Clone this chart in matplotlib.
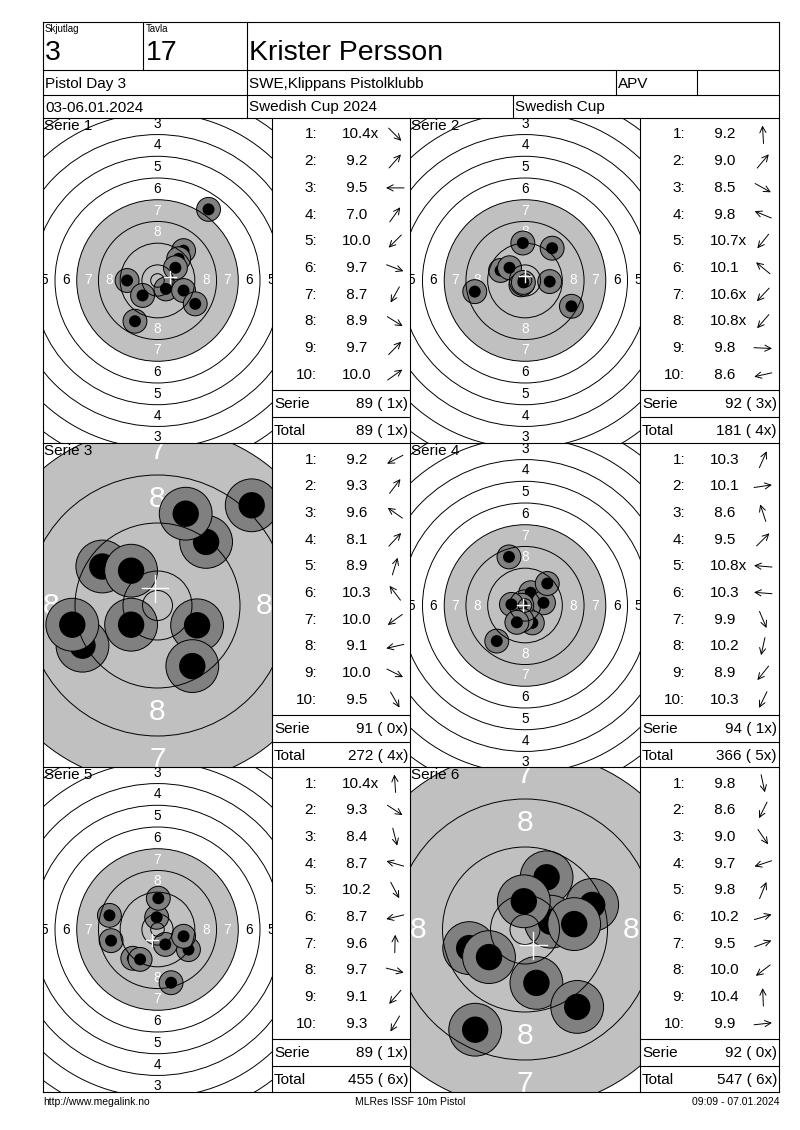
import numpy as np
import matplotlib
matplotlib.use("Agg")
import matplotlib.pyplot as plt
from matplotlib.patches import Circle

plt.rcParams['font.family'] = ['Liberation Sans', 'DejaVu Sans']

W, H = 800, 1130

# header texts
relay = "3"
lane = "17"
shooter = "Krister Persson"
match_name = "Pistol Day 3"
club = "SWE,Klippans Pistolklubb"
klass = "APV"
dates = "03-06.01.2024"
event = "Swedish Cup 2024"
event_short = "Swedish Cup"
footer_left = "http://www.megalink.no"
footer_mid = "MLRes ISSF 10m Pistol"
footer_right = "09:09 - 07.01.2024"

# shot positions in mm from the centre (x right, y up), one list per serie
shot_x = [
    [3.1, 9.6, -11.2, 18.8, -5.5, 9.6, -8.3, 13.9, 7.8, 6.6],
    [-0.8, 10.0, 17.1, -9.0, -0.8, -5.7, -1.5, -0.6, 9.1, -18.5],
    [-12.5, 8.1, -9.2, 15.7, 4.7, -4.4, -4.4, -14.2, 6.6, 5.8],
    [2.1, 6.8, -5.9, 8.2, -1.2, -5.0, 2.7, -1.2, -10.4, -3.0],
    [-0.3, 11.4, 5.0, -17.7, 2.9, -17.1, 0.3, 9.6, -9.1, -6.4],
    [1.9, -8.3, 8.7, -9.3, 3.6, 4.3, 11.2, -6.0, -0.2, 8.2],
]
shot_y = [
    [-3.1, 11.0, 0.0, 26.2, -5.5, -3.7, -15.0, -8.6, 8.0, 4.7],
    [13.8, 11.9, -9.5, 3.7, -1.0, 4.7, -1.6, -0.7, -0.4, -4.1],
    [-6.7, 10.6, 6.5, 16.7, 15.3, 5.8, -3.2, -3.2, -3.3, -10.1],
    [4.7, 1.0, 17.9, 8.1, 0.1, 0.4, -6.4, -5.4, -13.1, -6.2],
    [4.5, -7.4, -19.6, 5.2, -5.5, -4.1, 11.5, -2.5, -10.6, -11.0],
    [-8.9, -16.7, -12.9, -3.1, 8.7, 1.3, 4.1, -4.6, 4.7, 0.9],
]
shot_score = [
    [10.4, 9.2, 9.5, 7.0, 10.0, 9.7, 8.7, 8.9, 9.7, 10.0],
    [9.2, 9.0, 8.5, 9.8, 10.7, 10.1, 10.6, 10.8, 9.8, 8.6],
    [9.2, 9.3, 9.6, 8.1, 8.9, 10.3, 10.0, 9.1, 10.0, 9.5],
    [10.3, 10.1, 8.6, 9.5, 10.8, 10.3, 9.9, 10.2, 8.9, 10.3],
    [10.4, 9.3, 8.4, 8.7, 10.2, 8.7, 9.6, 9.7, 9.1, 9.3],
    [9.8, 8.6, 9.0, 9.7, 9.8, 10.2, 9.5, 10.0, 10.4, 9.9],
]
inner_ten = [
    [1, 0, 0, 0, 0, 0, 0, 0, 0, 0],
    [0, 0, 0, 0, 1, 0, 1, 1, 0, 0],
    [0, 0, 0, 0, 0, 0, 0, 0, 0, 0],
    [0, 0, 0, 0, 1, 0, 0, 0, 0, 0],
    [1, 0, 0, 0, 0, 0, 0, 0, 0, 0],
    [0, 0, 0, 0, 0, 0, 0, 0, 0, 0],
]
# display scale of each target, pixels per mm
view_scale = [2.715, 2.715, 6.0, 2.715, 2.715, 6.0]

# 10m air pistol target
ring_r = [77.75 - 8 * k for k in range(10)]   # rings 1..10
inner_r = 2.5
black_ring = 7

# page layout (pixels)
left, right, top, bottom = 43, 779, 22, 1092
row_top = [118, 443, 767]
row_h = 325
tgt_left = [43, 410]
tgt_w = [229, 230]
tab_left = [272, 640]
tab_w = [138, 139]

fig = plt.figure(figsize=(W / 100, H / 100), dpi=100)


def draw_target(ax, s, xs, ys, w, h):
    ax.set_xlim(-w / 2 / s, w / 2 / s)
    ax.set_ylim(-h / 2 / s, h / 2 / s)
    ax.set_aspect('equal')
    ax.axis('off')
    ax.add_patch(Circle((0, 0), ring_r[black_ring - 1], fc='#c0c0c0', ec='none', zorder=1))
    fs = 3.6 * s
    for k in range(1, 9):
        rr = ring_r[k - 1] - 4
        col = 'white' if k >= black_ring else 'black'
        for dx, dy in [(0, 1), (0, -1), (1, 0), (-1, 0)]:
            ax.text(dx * rr, dy * rr, str(k), ha='center', va='center', fontsize=fs,
                    color=col, zorder=2, clip_on=True)
    for x, y in zip(xs, ys):
        ax.add_patch(Circle((x, y), 4.4, fc='#808080', ec='black', lw=0.7, zorder=3))
        ax.add_patch(Circle((x, y), 2.2, fc='black', ec='none', zorder=3))
    for r in ring_r + [inner_r]:
        ax.add_patch(Circle((0, 0), r, fill=False, ec='black', lw=0.7, zorder=4))
    mx, my = np.mean(xs), np.mean(ys)
    ax.plot([mx - 2.2, mx + 2.2], [my, my], color='white', lw=1, zorder=5)
    ax.plot([mx, mx], [my - 2.2, my + 2.2], color='white', lw=1, zorder=5)


for i in range(6):
    r, c = i // 2, i % 2
    x0, y0, w = tgt_left[c], row_top[r], tgt_w[c]
    ax = fig.add_axes([x0 / W, 1 - (y0 + row_h) / H, w / W, row_h / H])
    draw_target(ax, view_scale[i], shot_x[i], shot_y[i], w, row_h)

page = fig.add_axes([0, 0, 1, 1], zorder=10)
page.set_facecolor('none')
page.set_xlim(0, W)
page.set_ylim(H, 0)
page.axis('off')

LW = 0.8


def hline(y, x1, x2):
    page.plot([x1, x2], [y, y], color='black', lw=LW)


def vline(x, y1, y2):
    page.plot([x, x], [y1, y2], color='black', lw=LW)


# frame and header grid
hline(top, left, right)
hline(bottom, left, right)
vline(left, top, bottom)
vline(right, top, bottom)
for y in [70, 95, 118, 443, 767]:
    hline(y, left, right)
vline(143, top, 70)
vline(247, top, 118)
vline(616, 70, 95)
vline(697, 70, 95)
vline(513, 95, 118)
for x in [272, 410, 640]:
    vline(x, 118, bottom)

page.text(45, 24, "Skjutlag", fontsize=7, va='top')
page.text(146, 24, "Tavla", fontsize=7, va='top')
page.text(45, 53, relay, fontsize=20.5, va='center')
page.text(146, 53, lane, fontsize=20.5, va='center')
page.text(249, 53, shooter, fontsize=20.5, va='center')
page.text(45, 84, match_name, fontsize=11, va='center')
page.text(249, 84, club, fontsize=11, va='center')
page.text(618, 84, klass, fontsize=11, va='center')
page.text(45, 107.5, dates, fontsize=11, va='center')
page.text(249, 107.5, event, fontsize=11, va='center')
page.text(515, 107.5, event_short, fontsize=11, va='center')

# score tables
total, total_x = 0, 0
for i in range(6):
    r, c = i // 2, i % 2
    y0, tx, tw = row_top[r], tab_left[c], tab_w[c]
    page.text(tgt_left[c] + 1, y0 + 1, f"Serie {i + 1}", fontsize=11, va='top')
    for j in range(10):
        y = y0 + 16.5 + j * 26.7
        v = shot_score[i][j]
        label = f"{v:4.1f}" + ("x" if inner_ten[i][j] else "")
        page.text(tx + 45, y, f"{j + 1}:", fontsize=11, ha='right', va='center')
        page.text(tx + 70, y, label, fontsize=11, ha='left', va='center')
        a = np.arctan2(shot_y[i][j], shot_x[i][j])
        ax_, ay_ = 9 * np.cos(a), -9 * np.sin(a)
        cx = tx + 123
        page.annotate('', xy=(cx + ax_, y + ay_), xytext=(cx - ax_, y - ay_),
                      arrowprops=dict(arrowstyle='->', lw=0.7, color='black',
                                      shrinkA=0, shrinkB=0, mutation_scale=11))
    s = sum(int(v) for v in shot_score[i])
    nx = sum(inner_ten[i])
    total += s
    total_x += nx
    hline(y0 + 272, tx, tx + tw)
    hline(y0 + 299, tx, tx + tw)
    page.text(tx + 2, y0 + 286, "Serie", fontsize=11, va='center')
    page.text(tx + tw - 2, y0 + 286, f"{s} ({nx:2d}x)", fontsize=11, va='center', ha='right')
    page.text(tx + 2, y0 + 313, "Total", fontsize=11, va='center')
    page.text(tx + tw - 2, y0 + 313, f"{total} ({total_x:2d}x)", fontsize=11, va='center', ha='right')

page.text(left, 1102, footer_left, fontsize=7.5, va='center')
page.text(410, 1102, footer_mid, fontsize=7.5, va='center', ha='center')
page.text(right, 1102, footer_right, fontsize=7.5, va='center', ha='right')

fig.savefig('out.png', dpi=100)
